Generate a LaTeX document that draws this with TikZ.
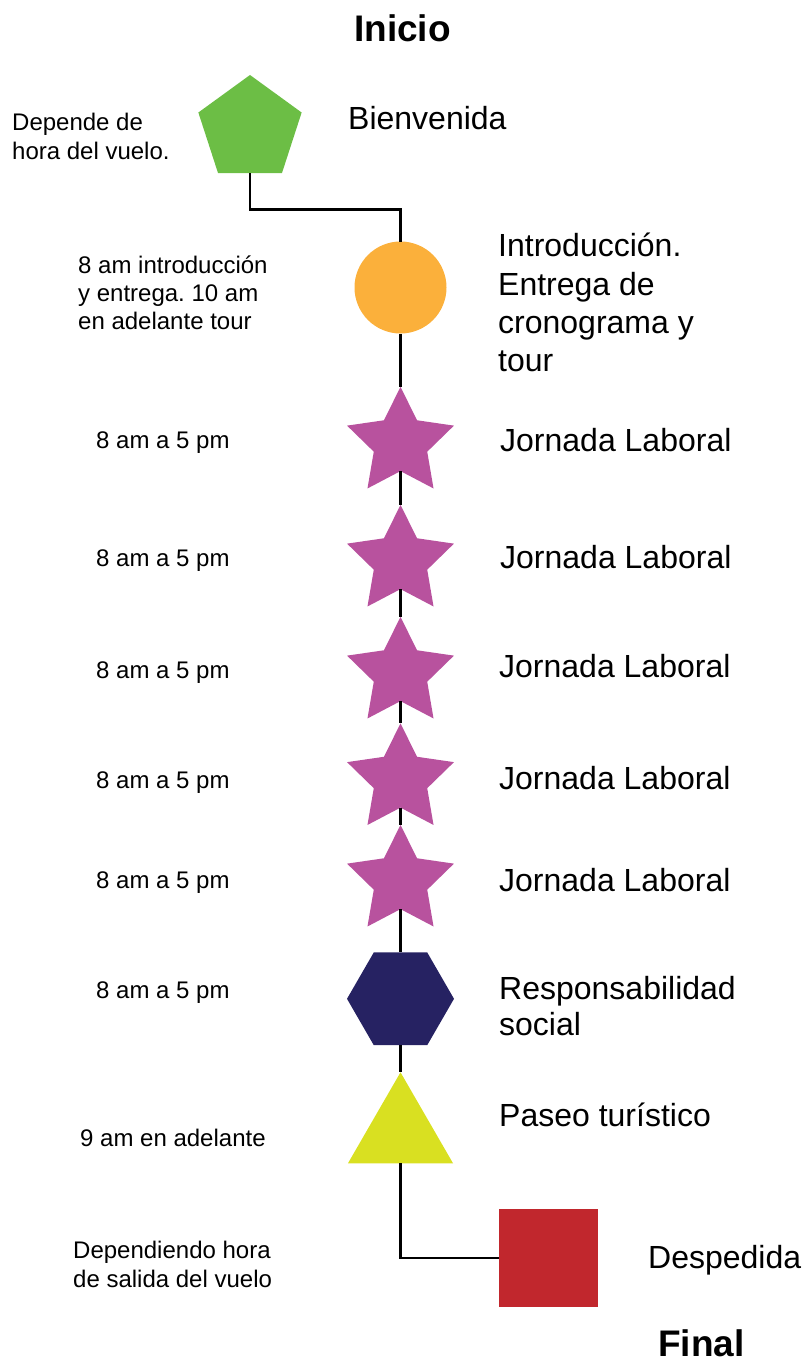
\documentclass[tikz,border=0pt]{standalone}
\usepackage{fontspec}
\setmainfont{Liberation Sans}
\usetikzlibrary{shapes.geometric}
\frenchspacing
\definecolor{cgreen}{HTML}{6CBE45}
\definecolor{corange}{HTML}{FBB03B}
\definecolor{cpurple}{HTML}{B8529E}
\definecolor{cnavy}{HTML}{262262}
\definecolor{cyellow}{HTML}{D9E021}
\definecolor{cred}{HTML}{C1272D}
\tikzset{
  shp/.style={inner sep=0pt, outer sep=0pt, draw=none},
  starshp/.style={shp, star, star points=5, star point ratio=2.0, minimum size=112.4pt, fill=cpurple},
  link/.style={line width=2.8pt, black},
  bigtxt/.style={anchor=base west, inner sep=0pt, align=left, font=\fontsize{32}{38.3}\selectfont},
  smalltxt/.style={anchor=base west, inner sep=0pt, align=left, font=\fontsize{24}{28.6}\selectfont},
  titletxt/.style={anchor=base west, inner sep=0pt, font=\fontsize{37}{44}\selectfont\bfseries}
}
\begin{document}
\begin{tikzpicture}[x=1pt,y=-1pt]
\useasboundingbox (0,0) rectangle (805,1362);
% shapes
\node[shp, regular polygon, regular polygon sides=5, minimum size=108.6pt, fill=cgreen] (pent) at (250,129.3) {};
\node[shp, circle, minimum size=92pt, fill=corange] (circ) at (400.5,287.5) {};
\node[starshp] (s1) at (400.5,443) {};
\node[starshp] (s2) at (400.5,561) {};
\node[starshp] (s3) at (400.5,673) {};
\node[starshp] (s4) at (400.5,779.5) {};
\node[starshp] (s5) at (400.5,881) {};
\node[shp, regular polygon, regular polygon sides=6, minimum size=107pt, fill=cnavy] (hex) at (400.5,998.8) {};
\node[shp, regular polygon, regular polygon sides=3, minimum size=121.4pt, fill=cyellow] (tri) at (400.5,1133) {};
\node[shp, rectangle, minimum size=98.4pt, fill=cred] (sq) at (548.5,1258) {};
\coordinate (j1) at (400.5,209.7);
% connectors
\draw[link] (pent.south) |- (j1) -- (circ.north);
\draw[link] (circ.south) -- (s1.north);
\draw[link] (s1.center) ++(0,28) -- (s2.north);
\draw[link] (s2.center) ++(0,28) -- (s3.north);
\draw[link] (s3.center) ++(0,28) -- (s4.north);
\draw[link] (s4.center) ++(0,28) -- (s5.north);
\draw[link] (s5.center) ++(0,28) -- (hex.north);
\draw[link] (hex.south) -- (tri.north);
\draw[link] (tri.south) |- (sq.west);
% titles
\node[titletxt, anchor=base] (ini) at (402.5,42) {Inicio};
\node[titletxt] (fin) at (658,1356) {Final};
% right labels (multi-line nodes: base = last line)
\node[bigtxt] (lb1) at (348,130) {Bienvenida};
\node[bigtxt] (lb2) at (498,371.6) {Introducción.\\Entrega de\\cronograma y\\tour};
\node[bigtxt] (lb3) at (500,451.5) {Jornada Laboral};
\node[bigtxt] (lb4) at (500,568.5) {Jornada Laboral};
\node[bigtxt] (lb5) at (499,677.5) {Jornada Laboral};
\node[bigtxt] (lb6) at (499,789.5) {Jornada Laboral};
\node[bigtxt] (lb7) at (499,891.5) {Jornada Laboral};
\node[bigtxt, font=\fontsize{32}{36}\selectfont] (lb8) at (499,1035.5) {Responsabilidad\\social};
\node[bigtxt] (lb9) at (499,1126) {Paseo turístico};
\node[bigtxt] (lb10) at (648,1268) {Despedida};
% left labels
\node[smalltxt, font=\fontsize{24}{29}\selectfont] (t1) at (12,159.5) {Depende de\\hora del vuelo.};
\node[smalltxt, font=\fontsize{24}{28}\selectfont] (t2) at (78,329.5) {8 am introducción\\y entrega. 10 am\\en adelante tour};
\node[smalltxt] (t3) at (96,448.6) {8 am a 5 pm};
\node[smalltxt] (t4) at (96,566.6) {8 am a 5 pm};
\node[smalltxt] (t5) at (96,678.6) {8 am a 5 pm};
\node[smalltxt] (t6) at (96,788.6) {8 am a 5 pm};
\node[smalltxt] (t7) at (96,888.6) {8 am a 5 pm};
\node[smalltxt] (t8) at (96,998.6) {8 am a 5 pm};
\node[smalltxt] (t9) at (80,1146.5) {9 am en adelante};
\node[smalltxt, font=\fontsize{24}{29}\selectfont] (t10) at (73,1287.5) {Dependiendo hora\\de salida del vuelo};
\end{tikzpicture}
\end{document}
